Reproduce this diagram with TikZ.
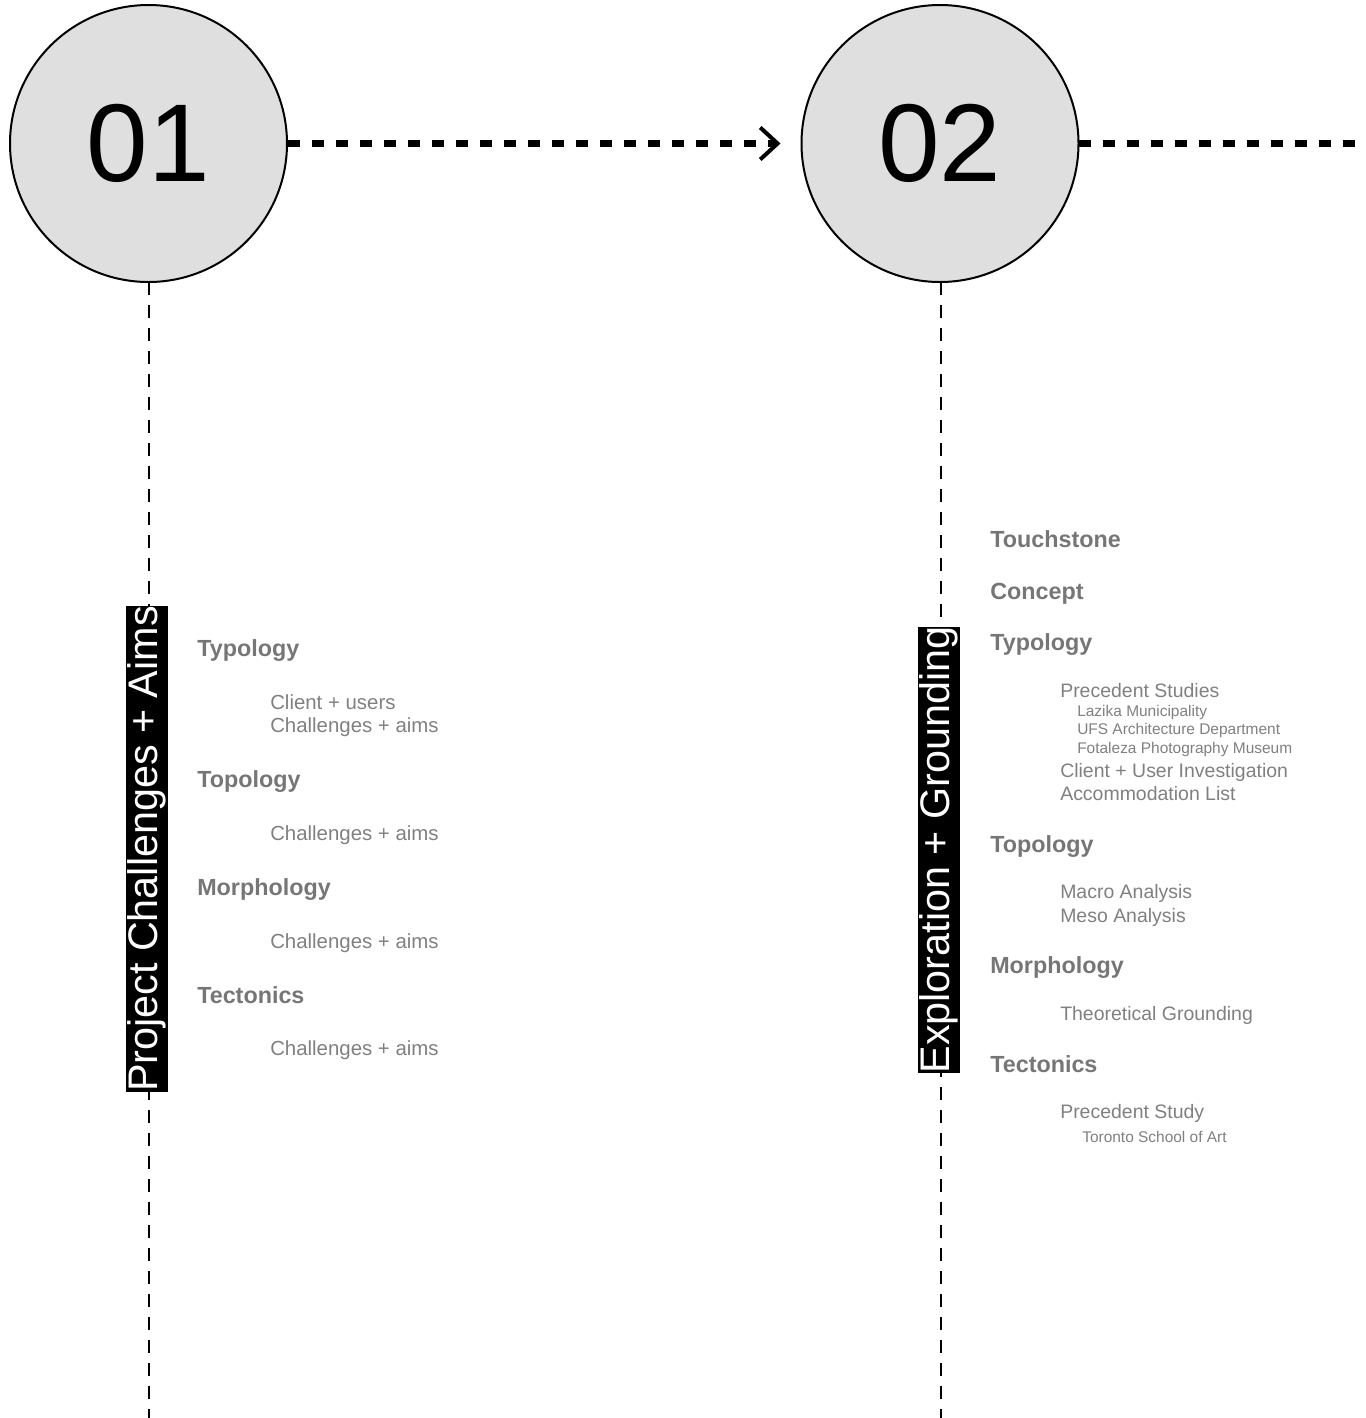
\documentclass[tikz,border=0pt]{standalone}
\usepackage{fontspec}
\setmainfont{Liberation Sans}
\usetikzlibrary{arrows.meta}
\definecolor{discfill}{HTML}{DFDFDF}
\definecolor{headgray}{HTML}{767676}
\definecolor{itemgray}{HTML}{808080}
\begin{document}
\begin{tikzpicture}[x=0.75pt,y=-0.75pt, line join=round,
	stage/.style={circle,draw,line width=1.5pt,fill=discfill,minimum size=207.75pt,inner sep=0pt,font=\fontsize{83}{83}\selectfont},
	flow/.style={line width=5.25pt,dash pattern=on 9pt off 9pt},
	axis/.style={line width=1.5pt,dash pattern=on 9.75pt off 7.5pt},
	band/.style={fill=black,text=white,rotate=90,inner xsep=0pt,inner ysep=1.5pt,font=\fontsize{31}{31}\selectfont},
	head/.style={anchor=west,inner sep=0pt,yshift=-2.25pt,text=headgray,text height=12.6pt,text depth=3.7pt,font=\fontsize{17.5}{17.5}\selectfont\bfseries},
	item/.style={anchor=west,inner sep=0pt,yshift=-2.25pt,text=itemgray,text height=11pt,text depth=3.2pt,font=\fontsize{15.3}{15.3}\selectfont},
	itemb/.style={item,text height=10.5pt,text depth=3.1pt,font=\fontsize{14.6}{14.6}\selectfont},
	sub/.style={anchor=west,inner sep=0pt,yshift=-2.25pt,text=itemgray,text height=8.4pt,text depth=2.5pt,font=\fontsize{11.6}{11.6}\selectfont}] %Quy trinh thiet ke
	\useasboundingbox (0,0) rectangle (1365,1418);
	\coordinate (e1) at (148.5,1418);
	\coordinate (e2) at (940.5,1418);
	\coordinate (e3) at (1365,143.5);
	% truc doc
	\draw[axis] (148.5,282) -- (e1);
	\draw[axis] (940.5,282) -- (e2);
	\draw[flow] (1078.5,143.5) -- (e3);
	\node[stage] (c1) at (148.5,143.5) {01};
	\node[stage] (c2) at (940,143.5) {02};
	\draw[flow,shorten >=15pt,-{Straight Barb[length=13pt,width=24pt,line width=3pt]}] (c1) -- (c2);
	\node[band] (b1) at (147,849) {Project Challenges + Aims};
	\node[band] (b2) at (939,850) {Exploration + Grounding};
	% cot 1
	\node[head] (ty1) at (197,648) {Typology};
	\node[item] (cu1) at (270,701) {Client + users};
	\node[item] (ca1) at (270,724) {Challenges + aims};
	\node[head] (to1) at (197,779) {Topology};
	\node[item] (ca2) at (270,832) {Challenges + aims};
	\node[head] (mo1) at (197,887) {Morphology};
	\node[item] (ca3) at (270,940) {Challenges + aims};
	\node[head] (te1) at (197,995) {Tectonics};
	\node[item] (ca4) at (270,1047) {Challenges + aims};
	% cot 2
	\node[head] (ts2) at (990,539) {Touchstone};
	\node[head] (co2) at (990,591) {Concept};
	\node[head] (ty2) at (990,642) {Typology};
	\node[itemb] (ps2) at (1060,690) {Precedent Studies};
	\node[sub] (lm2) at (1077,710) {Lazika Municipality};
	\node[sub] (uf2) at (1077,728) {UFS Architecture Department};
	\node[sub] (fp2) at (1077,747) {Fotaleza Photography Museum};
	\node[itemb] (cl2) at (1060,770) {Client + User Investigation};
	\node[itemb] (al2) at (1060,793) {Accommodation List};
	\node[head] (to2) at (990,844) {Topology};
	\node[itemb] (ma2) at (1060,891) {Macro Analysis};
	\node[itemb] (me2) at (1060,915) {Meso Analysis};
	\node[head] (mo2) at (990,965) {Morphology};
	\node[itemb] (tg2) at (1060,1013) {Theoretical Grounding};
	\node[head] (te2) at (990,1064) {Tectonics};
	\node[itemb] (pd2) at (1060,1111) {Precedent Study};
	\node[sub] (tr2) at (1082,1136) {Toronto School of Art};
\end{tikzpicture}
\end{document}
